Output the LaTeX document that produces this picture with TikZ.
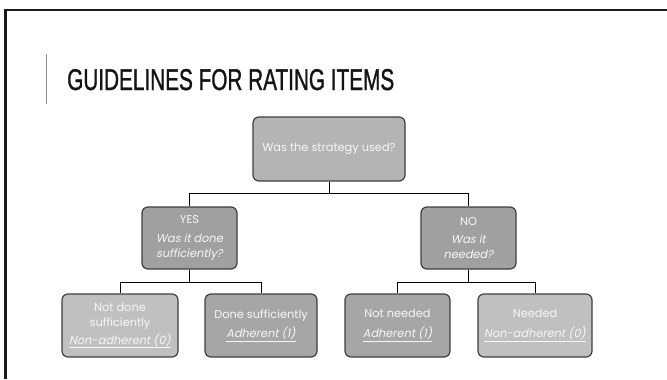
\documentclass[tikz,border=0pt]{standalone}
\usepackage{fontspec}
\usepackage{graphicx}
\setmainfont{Poppins}[AutoFakeSlant=0.2]
\newfontfamily\titlefont{Liberation Sans}[FakeBold=1.3]
\usetikzlibrary{calc}

\definecolor{framecol}{HTML}{1A1A1A}
\definecolor{titlecol}{HTML}{141414}
\definecolor{barcol}{HTML}{8C8C8C}
\definecolor{edgecol}{HTML}{3F3F3F}
\definecolor{rootfill}{HTML}{B4B4B4}
\definecolor{midfill}{HTML}{A0A0A0}
\definecolor{darkleaf}{HTML}{A6A6A6}
\definecolor{lightleaf}{HTML}{C0C0C0}
\definecolor{textcol}{HTML}{F6F6F6}

\tikzset{
  card/.style={draw=edgecol, line width=1.2bp, rounded corners=6bp,
    text=textcol, align=center, inner sep=0pt,
    font=\fontsize{11.4}{15.5}\selectfont},
  link/.style={draw=black, line width=1bp},
}
\newcommand{\verdict}[1]{\textit{\underline{#1}}}

\begin{document}
\begin{tikzpicture}[x=1bp,y=-1bp]
\useasboundingbox (0,0) rectangle (667,379);

% slide frame and title
\draw[framecol, line width=2.2bp] (5.5,379) -- (5.5,10) -- (667,10);
\draw[barcol, line width=1bp] (46.7,54) -- (46.7,104);
\node[anchor=base west, inner sep=0pt, text=titlecol] (title) at (67,90)
  {\resizebox{327bp}{21bp}{\titlefont GUIDELINES FOR RATING ITEMS}};

% decision tree
\node[card, fill=rootfill, minimum width=152bp, minimum height=64bp] (root) at (329,149)
  {Was the strategy used?};

\node[card, fill=midfill, minimum width=95bp, minimum height=62bp] (yes) at (189.5,238)
  {YES\\[3bp] \textit{Was it done}\\ \textit{sufficiently?}};
\node[card, fill=midfill, minimum width=95bp, minimum height=62bp] (no) at (468.5,238)
  {NO\\[3bp] \textit{Was it}\\ \textit{needed?}};

\node[card, fill=lightleaf, minimum width=116bp, minimum height=63bp] (notdone) at (120,325.5)
  {Not done\\ sufficiently\\[2bp] \verdict{Non-adherent (0)}};
\node[card, fill=darkleaf, minimum width=112bp, minimum height=63bp] (done) at (261,325.5)
  {Done sufficiently\\[4bp] \verdict{Adherent (1)}};
\node[card, fill=darkleaf, minimum width=105bp, minimum height=63bp] (notneeded) at (397.5,325.5)
  {Not needed\\[4bp] \verdict{Adherent (1)}};
\node[card, fill=lightleaf, minimum width=114bp, minimum height=63bp] (needed) at (535,325.5)
  {Needed\\[4bp] \verdict{Non-adherent (0)}};

% connectors
\draw[link] (root.south) -- ++(0,12) -| (yes.north);
\draw[link] (root.south) -- ++(0,12) -| (no.north);
\draw[link] (yes.south) -- ++(0,13) -| (notdone.north);
\draw[link] (yes.south) -- ++(0,13) -| (done.north);
\draw[link] (no.south) -- ++(0,13) -| (notneeded.north);
\draw[link] (no.south) -- ++(0,13) -| (needed.north);
\end{tikzpicture}
\end{document}
